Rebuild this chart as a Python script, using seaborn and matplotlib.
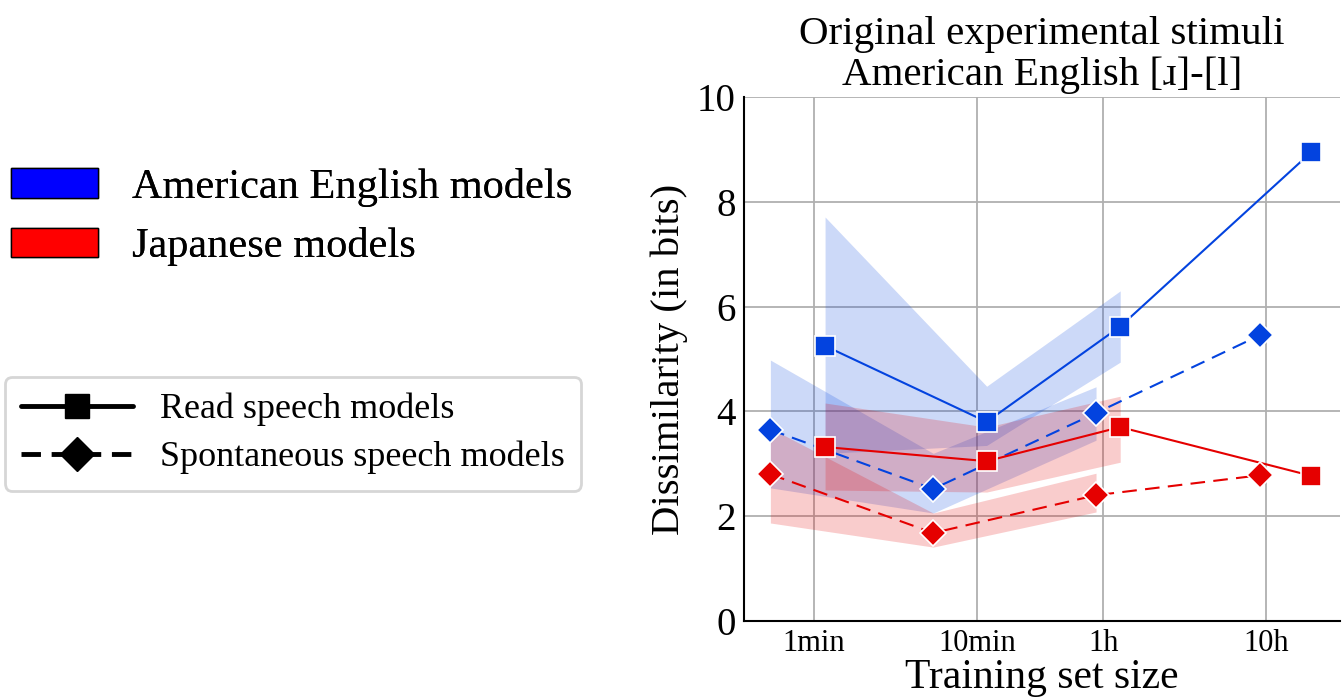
import numpy as np
import pandas as pd
import matplotlib
matplotlib.use("Agg")
import matplotlib.pyplot as plt
import seaborn as sns
from matplotlib.patches import Patch
from matplotlib.lines import Line2D

# ---- data (training-set sizes in minutes) ----
read_x = [1.17, 11.5, 76, 1135]
spont_x = [0.54, 5.4, 54, 545]

en_read = [5.25, 3.80, 5.62, 8.95]
en_read_lo = [3.20, 3.35, 4.94]
en_read_hi = [7.71, 4.48, 6.30]

en_spont = [3.65, 2.52, 3.97, 5.45]
en_spont_lo = [2.54, 2.06, 3.45]
en_spont_hi = [4.98, 3.20, 4.47]

jp_read = [3.32, 3.05, 3.70, 2.77]
jp_read_lo = [2.50, 2.46, 3.03]
jp_read_hi = [4.16, 3.70, 4.29]

jp_spont = [2.80, 1.68, 2.40, 2.78]
jp_spont_lo = [1.87, 1.41, 2.08]
jp_spont_hi = [3.68, 2.06, 2.82]

tick_pos = [1, 10, 60, 600]
tick_labels = ["1min", "10min", "1h", "10h"]

BLUE = "#0343df"
RED = "#e50000"

sns.set_theme(style="whitegrid")
plt.rcParams["font.family"] = ["Liberation Serif", "DejaVu Serif"]
for k in ["text.color", "axes.labelcolor", "xtick.color", "ytick.color"]:
    plt.rcParams[k] = "black"

fig = plt.figure(figsize=(13.44, 7), dpi=100)
ax = fig.add_axes([0.5536, 0.1129, 0.4434, 0.7485])

series = [
    ("en_read", read_x, en_read, en_read_lo, en_read_hi, BLUE, "s", "-"),
    ("en_spont", spont_x, en_spont, en_spont_lo, en_spont_hi, BLUE, "D", "--"),
    ("jp_read", read_x, jp_read, jp_read_lo, jp_read_hi, RED, "s", "-"),
    ("jp_spont", spont_x, jp_spont, jp_spont_lo, jp_spont_hi, RED, "D", "--"),
]

for name, xs, ys, lo, hi, col, mk, ls in series:
    ax.fill_between(xs[:3], lo, hi, color=col, alpha=0.2, linewidth=0, zorder=1)

for name, xs, ys, lo, hi, col, mk, ls in series:
    df = pd.DataFrame({"x": xs, "y": ys})
    sns.lineplot(data=df, x="x", y="y", ax=ax, color=col, marker=mk,
                 markersize=15 if mk == "s" else 13, markeredgecolor="white",
                 markeredgewidth=1.2, linewidth=1.5, zorder=3)
    line = ax.get_lines()[-1]
    if ls == "--":
        line.set_dashes((7, 4))

ax.set_xscale("log")
ax.set_xlim(0.372, 1700)
ax.set_ylim(0, 10)
ax.set_xticks(tick_pos)
ax.set_xticklabels(tick_labels, fontsize=22)
ax.xaxis.set_minor_locator(matplotlib.ticker.NullLocator())
ax.set_yticks([0, 2, 4, 6, 8, 10])
ax.set_yticklabels(["0", "2", "4", "6", "8", "10"], fontsize=28)
ax.tick_params(axis="both", length=0, pad=6)
ax.grid(True, color="#b0b0b0", linewidth=1.3)
for s in ["top", "right"]:
    ax.spines[s].set_visible(False)
for s in ["left", "bottom"]:
    ax.spines[s].set_color("black")
    ax.spines[s].set_linewidth(1.5)
ax.set_xlabel("Training set size", fontsize=30, labelpad=0)
ax.set_ylabel("Dissimilarity (in bits)", fontsize=29.3, labelpad=6)
ax.set_title("Original experimental stimuli\nAmerican English [ɹ]-[l]",
             fontsize=29.5, linespacing=1.1, pad=9)

h1 = [Patch(facecolor="blue", edgecolor="black", label="American English models"),
      Patch(facecolor="red", edgecolor="black", label="Japanese models")]
leg1 = fig.legend(handles=h1, loc="upper left", bbox_to_anchor=(-0.017, 0.809),
                  frameon=False, fontsize=30.5, handlelength=2.05, handleheight=0.7,
                  handletextpad=0.8, labelspacing=0.49, borderpad=0.3)

h2 = [Line2D([], [], color="black", linestyle="-", marker="s", markersize=17,
             linewidth=3.5, label="Read speech models"),
      Line2D([], [], color="black", linestyle="--", marker="D", markersize=17,
             linewidth=3.5, dashes=(4, 2.2), label="Spontaneous speech models")]
leg2 = fig.legend(handles=h2, loc="upper left", bbox_to_anchor=(0.001, 0.467),
                  frameon=True, fontsize=26, handlelength=3.1,
                  handletextpad=0.75, labelspacing=0.4, borderpad=0.45,
                  borderaxespad=0.1)
leg2.get_frame().set_edgecolor("#cccccc")
leg2.get_frame().set_linewidth(2)
fig.add_artist(leg1)

fig.savefig("out.png", dpi=100)
